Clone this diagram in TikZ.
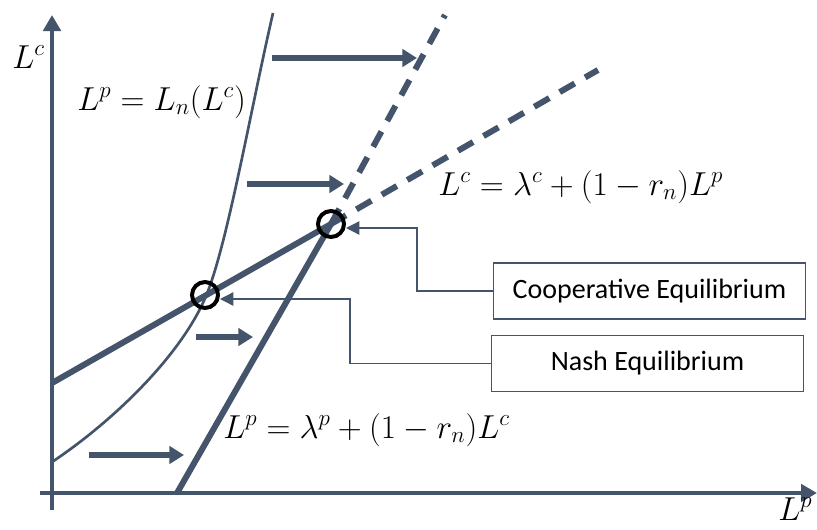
\documentclass[tikz,border=0pt]{standalone}
\usepackage{amsmath}
\usepackage{fontspec}
\newfontfamily\boxfont{Carlito}
\usepackage{tikz}
\usetikzlibrary{arrows.meta,calc}
\definecolor{EqSlate}{HTML}{44546A}

\begin{document}
\begin{tikzpicture}[x=0.75pt,y=-0.75pt,
  reaction/.style={EqSlate,line width=4.5pt},
  future/.style={reaction,dash pattern=on 13pt off 9pt},
  shiftarrow/.style={EqSlate,line width=5pt,-{Triangle[length=11pt,width=13pt]}},
  eqpoint/.style={circle,draw=black,line width=3pt,minimum size=19.5pt,inner sep=0pt},
  eqbox/.style={draw=EqSlate,line width=1pt,minimum width=234pt,minimum height=42pt,inner sep=0pt,font=\boxfont\fontsize{21}{25}\selectfont},
  callout/.style={EqSlate,line width=1pt,-{Triangle[length=10pt,width=10pt]}},
  eqlabel/.style={anchor=base west,inner sep=0pt,font=\fontsize{25}{30}\selectfont}]
\useasboundingbox (0,0) rectangle (817,529);
% axes
\draw[EqSlate,line width=3pt,-{Triangle[length=12pt,width=13pt]}] (52,510) -- (52,15);
\draw[EqSlate,line width=3pt,-{Triangle[length=12pt,width=13pt]}] (40,493) -- (817,493);
\node[eqlabel] (lcaxis) at (12,68) {$L^c$};
\node[eqlabel] (lpaxis) at (778,520) {$L^p$};
% points
\coordinate (nashpt) at (205,295);
\coordinate (cooppt) at (331,224);
\coordinate (lcbase) at (52,383);
\coordinate (lcend) at (598,70);
\coordinate (lpbase) at (177,493);
\coordinate (lpend) at (445,15);
% best response L_n
\draw[EqSlate,line width=2pt] (52,462) .. controls (112,422) and (181,356) .. (206,296)
  .. controls (227,246) and (250,113) .. (273,13);
% reaction lines
\draw[reaction] (lcbase) -- (cooppt);
\draw[future] (cooppt) -- (lcend);
\draw[reaction] (lpbase) -- (cooppt);
\draw[future] (cooppt) -- (lpend);
% shifts
\draw[shiftarrow] (272,58) -- (417,58);
\draw[shiftarrow] (247,184) -- (344,184);
\draw[shiftarrow] (196,337) -- (253,337);
\draw[shiftarrow] (89,455) -- (184,455);
% equilibria
\node[eqpoint] (nash) at (nashpt) {};
\node[eqpoint] (coop) at (cooppt) {};
\node[eqbox] (coopbox) at (649.5,291) {Cooperative Equilibrium};
\node[eqbox] (nashbox) at (647.5,363.5) {Nash Equilibrium};
\draw[callout] (coopbox.west) -- ++(-76,0) |- ([yshift=-3pt]coop.east);
\draw[callout] (nashbox.west) -- ++(-141,0) |- ([yshift=-3pt]nash.east);
% labels
\node[eqlabel] (lnlabel) at (77,110) {$L^p = L_n(L^c)$};
\node[eqlabel] (lclabel) at (438,195) {$L^c = \lambda^c + (1-r_n)L^p$};
\node[eqlabel] (lplabel) at (223,438) {$L^p = \lambda^p + (1-r_n)L^c$};
\end{tikzpicture}
\end{document}
